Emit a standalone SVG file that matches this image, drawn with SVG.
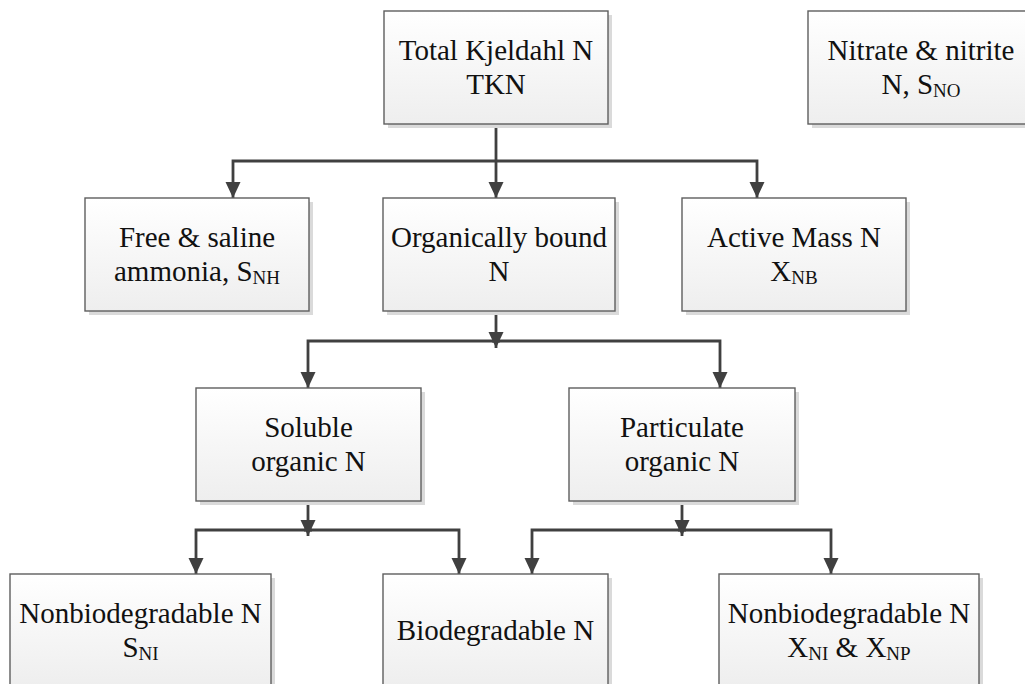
<svg xmlns="http://www.w3.org/2000/svg" width="1025" height="684" viewBox="0 0 1025 684">
  <style>
    .box { fill: url(#boxFill); stroke: #5e5e5e; stroke-width: 1.4; }
    .shadow { fill: #dadada; }
    text { font-family: "Liberation Serif", "DejaVu Serif", serif; font-size: 29px; fill: #111; text-anchor: middle; }
    .sub { font-size: 19px; }
    .wire { fill: none; stroke: #404040; stroke-width: 2.8; stroke-linejoin: miter; }
  </style>
  <defs>
    <linearGradient id="boxFill" x1="0" y1="0" x2="0" y2="1">
      <stop offset="0" stop-color="#ffffff"/>
      <stop offset="1" stop-color="#eeeeee"/>
    </linearGradient>
    <marker id="arrow" markerUnits="userSpaceOnUse" markerWidth="16" markerHeight="16" viewBox="0 0 16 16" refX="16" refY="8" orient="auto">
      <path d="M0,0.5 L16,8 L0,15.5 Z" fill="#404040"/>
    </marker>
  </defs>

  <rect width="1025" height="684" fill="#ffffff"/>

  <!-- connectors -->
  <g id="connectors">
    <!-- TKN fan-out -->
    <path class="wire" d="M496,124 V198" marker-end="url(#arrow)"/>
    <path class="wire" d="M496,161 H233 V198" marker-end="url(#arrow)"/>
    <path class="wire" d="M496,161 H757 V198" marker-end="url(#arrow)"/>
    <!-- organically bound split -->
    <path class="wire" d="M496,311 V348" marker-end="url(#arrow)"/>
    <path class="wire" d="M500,341 H308 V388" marker-end="url(#arrow)"/>
    <path class="wire" d="M492,341 H720 V388" marker-end="url(#arrow)"/>
    <!-- soluble organic split -->
    <path class="wire" d="M308,501 V536" marker-end="url(#arrow)"/>
    <path class="wire" d="M312,530 H196 V574" marker-end="url(#arrow)"/>
    <path class="wire" d="M304,530 H459 V574" marker-end="url(#arrow)"/>
    <!-- particulate organic split -->
    <path class="wire" d="M682,501 V536" marker-end="url(#arrow)"/>
    <path class="wire" d="M686,530 H532 V574" marker-end="url(#arrow)"/>
    <path class="wire" d="M678,530 H831 V574" marker-end="url(#arrow)"/>
  </g>

  <g id="tkn">
    <rect class="shadow" x="388" y="15" width="224" height="113"/>
    <rect class="box" x="384" y="11" width="224" height="113"/>
    <text x="496" y="59.5" font-family="Liberation Serif, serif">Total Kjeldahl N</text>
    <text x="496" y="93.5" font-family="Liberation Serif, serif">TKN</text>
  </g>

  <g id="nitrate-nitrite">
    <rect class="shadow" x="812" y="15" width="226" height="113"/>
    <rect class="box" x="808" y="11" width="226" height="113"/>
    <text x="921" y="59.5">Nitrate &amp; nitrite</text>
    <text x="921" y="93.5">N, S<tspan class="sub" dy="3">NO</tspan></text>
  </g>

  <g id="free-saline-ammonia">
    <rect class="shadow" x="89" y="202" width="224" height="113"/>
    <rect class="box" x="85" y="198" width="224" height="113"/>
    <text x="197" y="246.5">Free &amp; saline</text>
    <text x="197" y="280.5">ammonia, S<tspan class="sub" dy="3">NH</tspan></text>
  </g>

  <g id="organically-bound">
    <rect class="shadow" x="387" y="202" width="232" height="113"/>
    <rect class="box" x="383" y="198" width="232" height="113"/>
    <text x="499" y="246.5">Organically bound</text>
    <text x="499" y="280.5">N</text>
  </g>

  <g id="active-mass">
    <rect class="shadow" x="686" y="202" width="224" height="113"/>
    <rect class="box" x="682" y="198" width="224" height="113"/>
    <text x="794" y="246.5">Active Mass N</text>
    <text x="794" y="280.5">X<tspan class="sub" dy="3">NB</tspan></text>
  </g>

  <g id="soluble-organic">
    <rect class="shadow" x="200" y="392" width="225" height="113"/>
    <rect class="box" x="196" y="388" width="225" height="113"/>
    <text x="308.5" y="436.5">Soluble</text>
    <text x="308.5" y="470.5">organic N</text>
  </g>

  <g id="particulate-organic">
    <rect class="shadow" x="573" y="392" width="226" height="113"/>
    <rect class="box" x="569" y="388" width="226" height="113"/>
    <text x="682" y="436.5">Particulate</text>
    <text x="682" y="470.5">organic N</text>
  </g>

  <g id="nonbiodegradable-soluble">
    <rect class="shadow" x="14" y="578" width="261" height="113"/>
    <rect class="box" x="10" y="574" width="261" height="113"/>
    <text x="140.5" y="622.5">Nonbiodegradable N</text>
    <text x="140.5" y="656.5">S<tspan class="sub" dy="3">NI</tspan></text>
  </g>

  <g id="biodegradable">
    <rect class="shadow" x="387" y="578" width="225" height="113"/>
    <rect class="box" x="383" y="574" width="225" height="113"/>
    <text x="495.5" y="639.5">Biodegradable N</text>
  </g>

  <g id="nonbiodegradable-particulate">
    <rect class="shadow" x="723" y="578" width="260" height="113"/>
    <rect class="box" x="719" y="574" width="260" height="113"/>
    <text x="849" y="622.5">Nonbiodegradable N</text>
    <text x="849" y="656.5">X<tspan class="sub" dy="3">NI</tspan><tspan dy="-3"> &amp; X</tspan><tspan class="sub" dy="3">NP</tspan></text>
  </g>
</svg>
